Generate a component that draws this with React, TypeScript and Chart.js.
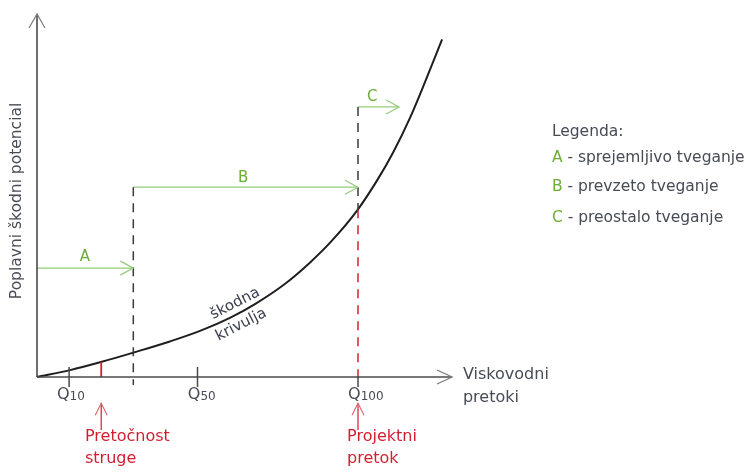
import React, { useEffect, useRef } from "react";
import { Chart, registerables } from "chart.js";

Chart.register(...registerables);

// ---- data (x = flow in Q-units, y = damage potential, both arbitrary) ----
const curveX = [0, 10.3, 20.2, 29.9, 41.4, 50.8, 60.1, 67.9, 77.3, 85.0, 91.3, 100, 105.9, 110.9, 116.2, 120.9, 126.2];
const curveY = [0, 1.9, 4.2, 6.7, 9.8, 12.7, 16.3, 20.1, 25.7, 31.5, 37.0, 46.2, 54.1, 61.8, 71.4, 81.3, 93.0];

const tickX = [10, 50, 100];
const tickSub = ["10", "50", "100"];
const tickLabelX = [6.2, 47.0, 96.9];

const capacityX = 20; // Pretočnost struge
const thresholdX = 30; // prevzeto tveganje boundary
const designX = 100; // Projektni pretok (Q100)

const riskNames = ["A", "B", "C"];
const riskFrom = [0, 30, 100];
const riskTo = [30, 100, 112.8];
const riskLevel = [30.0, 52.3, 74.4];
const riskLabelX = [14.95, 64.2, 104.4];
const riskLabelY = [33.1, 54.8, 77.1];

const legendTitle = "Legenda:";
const legendLetters = ["A", "B", "C"];
const legendTexts = [" - sprejemljivo tveganje", " - prevzeto tveganje", " - preostalo tveganje"];

const xAxisEnd = 129.3;
const yAxisEnd = 100;

const X_MIN = -11.53;
const X_MAX = 221.5;
const Y_MIN = -26.72;
const Y_MAX = 103.86;

const TEXT = "#474b55";
const RED = "#d21f30";
const GREEN_LINE = "#93cc7a";
const GREEN_TEXT = "#6aae36";
const FONT = "DejaVu Sans";

function interpCurve(x: number): number {
  for (let i = 0; i < curveX.length - 1; i++) {
    if (x >= curveX[i] && x <= curveX[i + 1]) {
      const t = (x - curveX[i]) / (curveX[i + 1] - curveX[i]);
      return curveY[i] + t * (curveY[i + 1] - curveY[i]);
    }
  }
  return curveY[curveY.length - 1];
}

function seg(x1: number, y1: number, x2: number, y2: number, color: string, width: number, dash: number[] = []) {
  return {
    data: [
      { x: x1, y: y1 },
      { x: x2, y: y2 },
    ],
    borderColor: color,
    borderWidth: width,
    borderDash: dash,
    pointRadius: 0,
    fill: false,
    tension: 0,
  };
}

function head(ctx: CanvasRenderingContext2D, tx: number, ty: number, ang: number, len: number, half: number, color: string, w: number) {
  const bx = tx - Math.cos(ang) * len;
  const by = ty - Math.sin(ang) * len;
  const nx = -Math.sin(ang) * half;
  const ny = Math.cos(ang) * half;
  ctx.save();
  ctx.strokeStyle = color;
  ctx.lineWidth = w;
  ctx.setLineDash([]);
  ctx.beginPath();
  ctx.moveTo(bx + nx, by + ny);
  ctx.lineTo(tx, ty);
  ctx.lineTo(bx - nx, by - ny);
  ctx.stroke();
  ctx.restore();
}

const annotations = {
  id: "annotations",
  afterDatasetsDraw(chart: any) {
    const ctx: CanvasRenderingContext2D = chart.ctx;
    const xs = chart.scales.x;
    const ys = chart.scales.y;
    const px = (v: number) => xs.getPixelForValue(v);
    const py = (v: number) => ys.getPixelForValue(v);

    // axis arrowheads
    head(ctx, px(0), py(yAxisEnd), -Math.PI / 2, 14, 8, "#7a7a7a", 1.2);
    head(ctx, px(xAxisEnd), py(0), 0, 15, 7, "#7a7a7a", 1.2);

    // risk arrows heads + labels
    for (let i = 0; i < riskNames.length; i++) {
      head(ctx, px(riskTo[i]), py(riskLevel[i]), 0, 13, 7, GREEN_LINE, 1.2);
      ctx.save();
      ctx.fillStyle = GREEN_TEXT;
      ctx.font = `15px "${FONT}"`;
      ctx.textAlign = "center";
      ctx.textBaseline = "middle";
      ctx.fillText(riskNames[i], px(riskLabelX[i]), py(riskLabelY[i]));
      ctx.restore();
    }

    // red up arrows
    const redTip = -7.2;
    const redTail = -14.6;
    [capacityX, designX].forEach((xv) => {
      ctx.save();
      ctx.strokeStyle = RED;
      ctx.lineWidth = 1.2;
      ctx.beginPath();
      ctx.moveTo(px(xv), py(redTail));
      ctx.lineTo(px(xv), py(redTip));
      ctx.stroke();
      ctx.restore();
      head(ctx, px(xv), py(redTip), -Math.PI / 2, 12, 6, "#e0606c", 1.1);
    });

    ctx.save();
    ctx.textBaseline = "middle";
    ctx.textAlign = "left";

    // Q tick labels with subscripts
    for (let i = 0; i < tickX.length; i++) {
      const x0 = px(tickLabelX[i]);
      const y0 = py(-4.96);
      ctx.fillStyle = TEXT;
      ctx.font = `16px "${FONT}"`;
      ctx.fillText("Q", x0, y0);
      const w = ctx.measureText("Q").width;
      ctx.font = `12px "${FONT}"`;
      ctx.fillText(tickSub[i], x0 + w, y0 + 2);
    }

    // red captions
    ctx.fillStyle = RED;
    ctx.font = `16px "${FONT}"`;
    ctx.fillText("Pretočnost", px(14.95), py(-16.6));
    ctx.fillText("struge", px(14.95), py(-22.6));
    ctx.fillText("Projektni", px(96.6), py(-16.6));
    ctx.fillText("pretok", px(96.6), py(-22.6));

    // x axis title
    ctx.fillStyle = TEXT;
    ctx.fillText("Viskovodni", px(132.7), py(0.55));
    ctx.fillText("pretoki", px(132.7), py(-5.8));

    // legend
    ctx.font = `15.5px "${FONT}"`;
    const lx = px(160.4);
    const legY = [67.5, 60.3, 52.3, 43.8];
    ctx.fillStyle = TEXT;
    ctx.fillText(legendTitle, lx, py(legY[0]));
    for (let i = 0; i < legendLetters.length; i++) {
      ctx.fillStyle = GREEN_TEXT;
      ctx.fillText(legendLetters[i], lx, py(legY[i + 1]));
      const w = ctx.measureText(legendLetters[i]).width;
      ctx.fillStyle = TEXT;
      ctx.fillText(legendTexts[i], lx + w, py(legY[i + 1]));
    }
    ctx.restore();

    // y axis title
    ctx.save();
    ctx.translate(px(-6.23), py(48.5));
    ctx.rotate(-Math.PI / 2);
    ctx.fillStyle = TEXT;
    ctx.font = `15.5px "${FONT}"`;
    ctx.textAlign = "center";
    ctx.textBaseline = "middle";
    ctx.fillText("Poplavni škodni potencial", 0, 0);
    ctx.restore();

    // curve label
    const ang = (-27 * Math.PI) / 180;
    ctx.save();
    ctx.fillStyle = "#3c4150";
    ctx.font = `15px "${FONT}"`;
    ctx.textAlign = "center";
    ctx.textBaseline = "middle";
    ctx.translate(px(61.7), py(20.2));
    ctx.rotate(ang);
    ctx.fillText("škodna", 0, 0);
    ctx.restore();
    ctx.save();
    ctx.fillStyle = "#3c4150";
    ctx.font = `15px "${FONT}"`;
    ctx.textAlign = "center";
    ctx.textBaseline = "middle";
    ctx.translate(px(63.6), py(14.4));
    ctx.rotate(ang);
    ctx.fillText("krivulja", 0, 0);
    ctx.restore();
  },
};

export default function App() {
  const ref = useRef<HTMLCanvasElement | null>(null);

  useEffect(() => {
    document.body.style.margin = "0";
    const canvas = ref.current;
    if (!canvas) return;

    const designY = interpCurve(designX);
    const capY = interpCurve(capacityX);

    const datasets: any[] = [
      // axes
      seg(0, 0, xAxisEnd, 0, "#4a4a4a", 1.6),
      seg(0, 0, 0, yAxisEnd, "#4a4a4a", 1.6),
      // ticks
      ...tickX.filter((t) => t !== designX).map((t) => seg(t, 2.75, t, -2.75, "#4a4a4a", 1.5)),
      seg(designX, 0, designX, -2.75, "#4a4a4a", 1.5),
      // red capacity tick
      seg(capacityX, 0, capacityX, capY, RED, 1.8),
      // dashed threshold line
      seg(thresholdX, riskLevel[1], thresholdX, -2.2, "#3a3a3a", 1.5, [9, 7]),
      // design flow dashed lines
      seg(designX, riskLevel[2], designX, designY, "#3a3a3a", 1.5, [9, 7]),
      seg(designX, designY, designX, -2.2, RED, 1.5, [9, 7]),
      // risk arrows shafts
      ...riskNames.map((_, i) => seg(riskFrom[i], riskLevel[i], riskTo[i], riskLevel[i], GREEN_LINE, 1.3)),
      // damage curve
      {
        data: curveX.map((x, i) => ({ x, y: curveY[i] })),
        borderColor: "#1e1e1e",
        borderWidth: 2,
        pointRadius: 0,
        fill: false,
        cubicInterpolationMode: "monotone",
      },
    ];

    const chart = new Chart(canvas, {
      type: "line",
      data: { datasets },
      options: {
        responsive: false,
        animation: false,
        layout: { padding: 0 },
        plugins: { legend: { display: false }, tooltip: { enabled: false } },
        scales: {
          x: { type: "linear", min: X_MIN, max: X_MAX, display: false },
          y: { type: "linear", min: Y_MIN, max: Y_MAX, display: false },
        },
        events: [],
      },
      plugins: [annotations],
    });
    return () => chart.destroy();
  }, []);

  return (
    <div style={{ width: 748, height: 474, background: "#fff" }}>
      <canvas ref={ref} width={748} height={474} style={{ display: "block" }} />
    </div>
  );
}
